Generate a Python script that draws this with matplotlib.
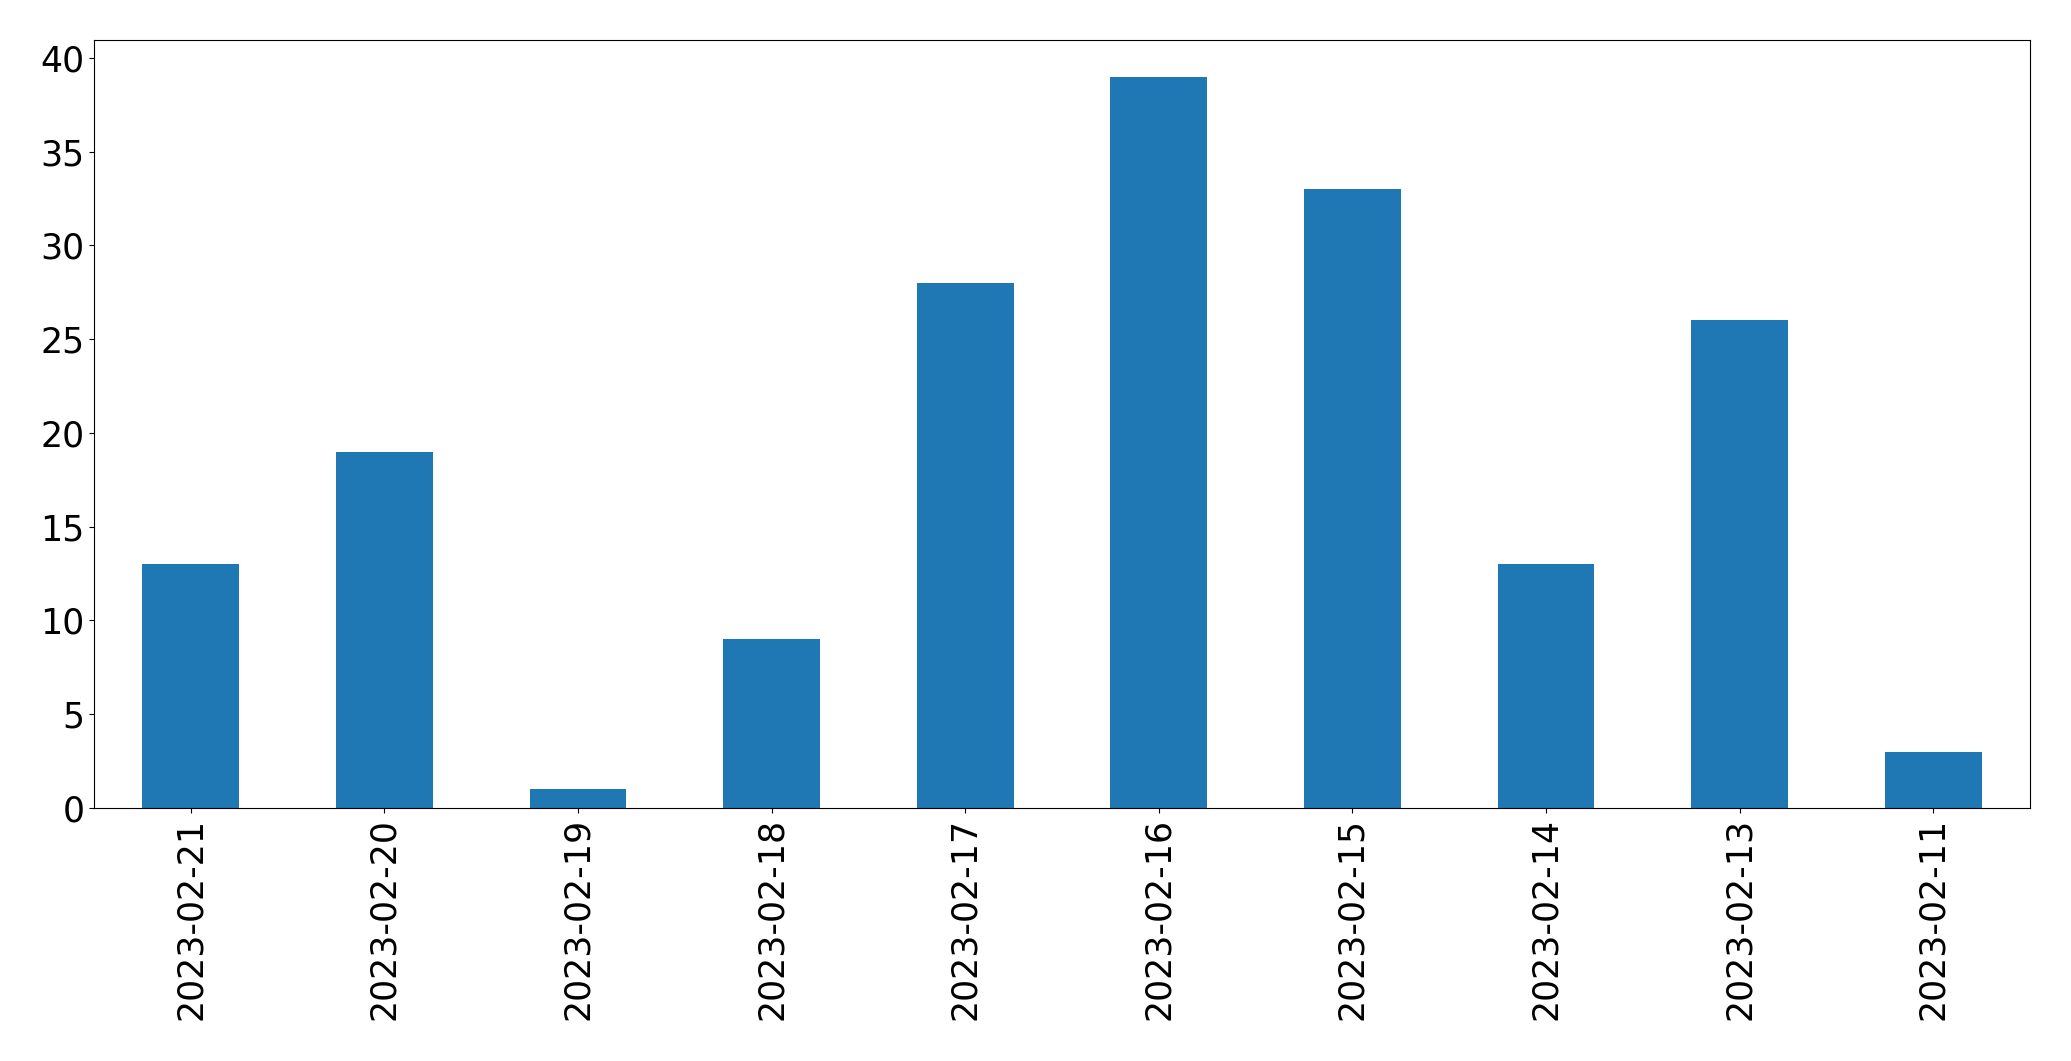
import matplotlib
matplotlib.use("Agg")
import matplotlib.pyplot as plt
import pandas as pd

dates = ["2023-02-21", "2023-02-20", "2023-02-19", "2023-02-18", "2023-02-17",
         "2023-02-16", "2023-02-15", "2023-02-14", "2023-02-13", "2023-02-11"]
counts = [13, 19, 1, 9, 28, 39, 33, 13, 26, 3]

series = pd.Series(counts, index=dates)

fig, ax = plt.subplots(figsize=(20.71, 10.61), dpi=100)
series.plot(kind="bar", ax=ax, color="#1f77b4", fontsize=25)
fig.subplots_adjust(left=0.0454, right=0.9802, top=0.9623, bottom=0.2385)
fig.savefig("out.png", dpi=100)
